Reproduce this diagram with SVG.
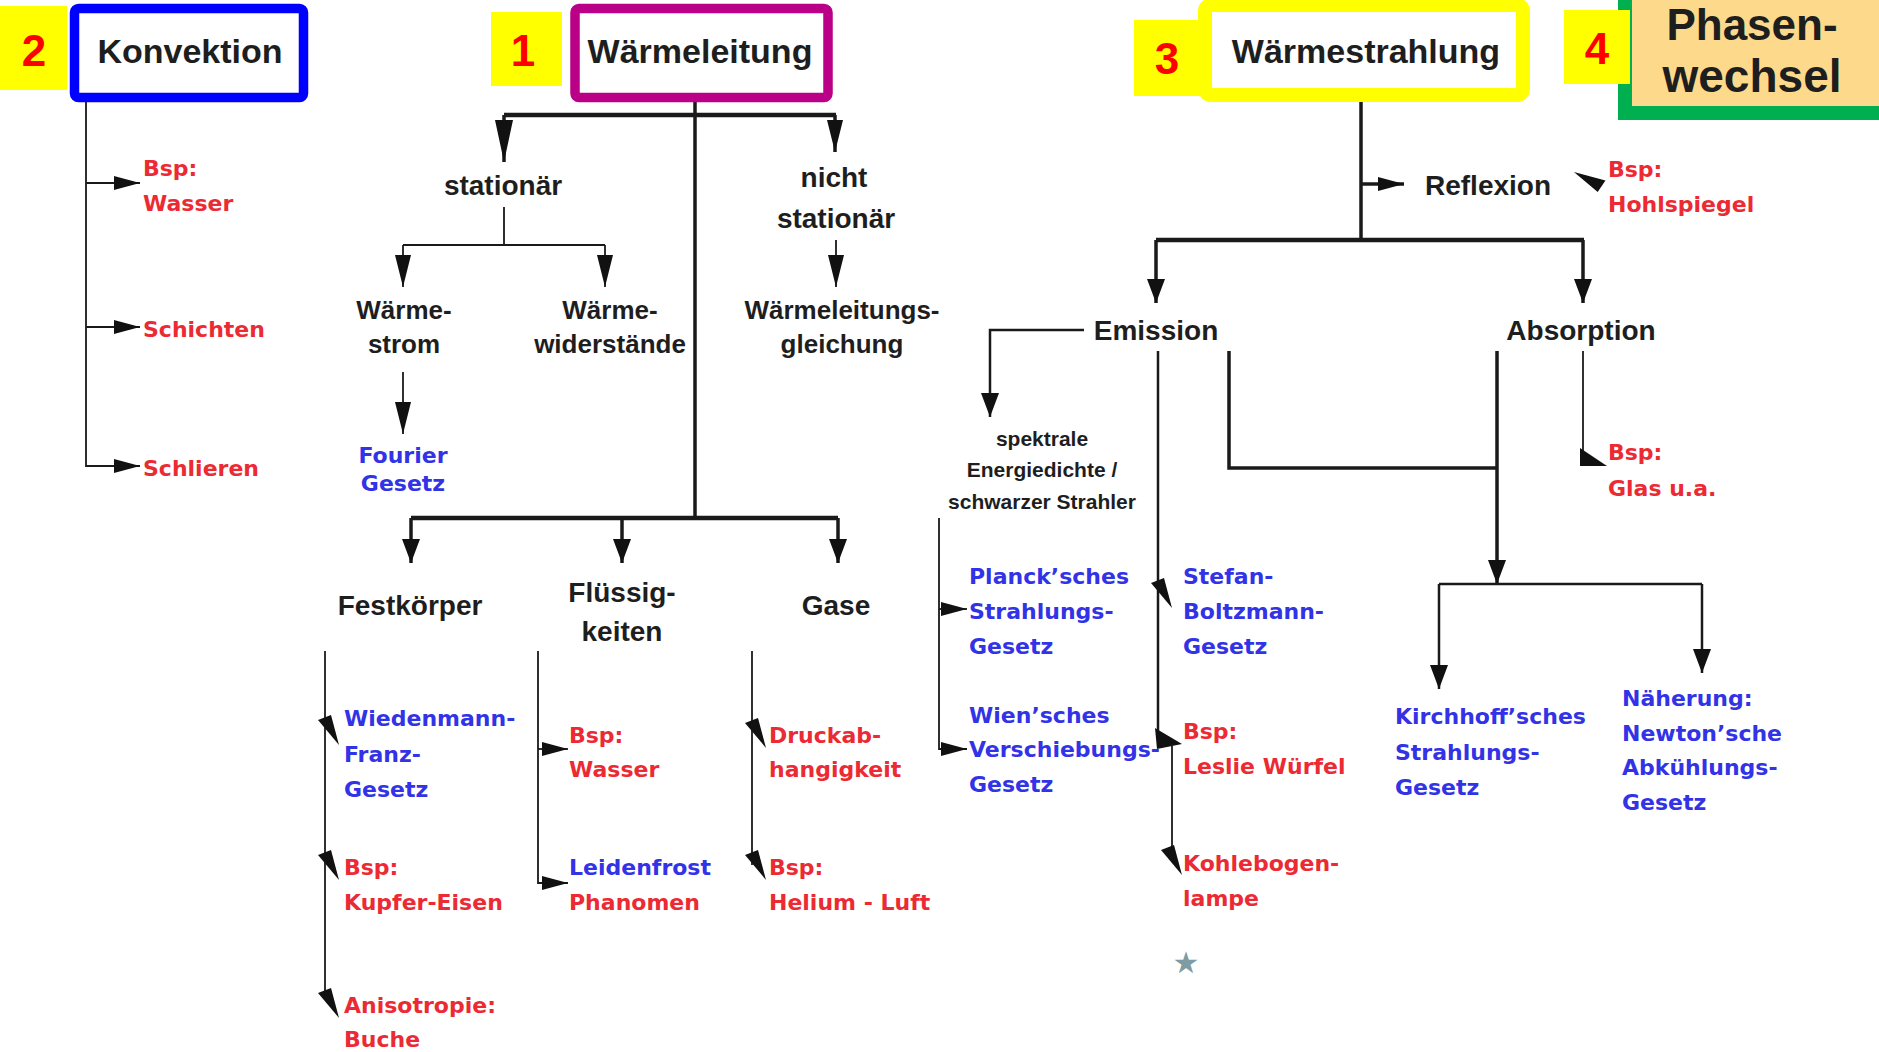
<svg xmlns="http://www.w3.org/2000/svg" width="1879" height="1052" viewBox="0 0 1879 1052">
<defs>
<style>
.lbl{font-family:"Liberation Sans",Arial,sans-serif;font-weight:bold;fill:#1e1e1e}
.ttl{font-size:34px;text-anchor:middle}
.mid{font-size:28px;text-anchor:middle}
.sm{font-size:26px;text-anchor:middle}
.tiny{font-size:21px;text-anchor:middle}
.col{font-family:"DejaVu Sans",Verdana,sans-serif;font-weight:bold;font-size:22px}
.r{fill:#ec2a33}
.b{fill:#3232e6}
.num{font-family:"Liberation Sans",Arial,sans-serif;font-weight:bold;font-size:44px;fill:#ff0000;text-anchor:middle}
.ln{fill:none;stroke:#1a1a1a;stroke-linejoin:miter}
.t1{stroke-width:1.8}
.t2{stroke-width:2.5}
.t3{stroke-width:3.5}
.t4{stroke-width:4.5}
.dart{fill:#111}
</style>
<marker id="ah" markerUnits="userSpaceOnUse" markerWidth="24" markerHeight="18" refX="24" refY="9" orient="auto"><path d="M0,0 L24,9 L0,18 Z" fill="#111"/></marker>
<marker id="ahl" markerUnits="userSpaceOnUse" markerWidth="42" markerHeight="18" refX="42" refY="9" orient="auto"><path d="M0,0 L42,9 L0,18 Z" fill="#111"/></marker>
<marker id="ahm" markerUnits="userSpaceOnUse" markerWidth="32" markerHeight="16" refX="32" refY="8" orient="auto"><path d="M0,0 L32,8 L0,16 Z" fill="#111"/></marker>
<marker id="ahs" markerUnits="userSpaceOnUse" markerWidth="26" markerHeight="14" refX="26" refY="7" orient="auto"><path d="M0,0 L26,7 L0,14 Z" fill="#111"/></marker>
<path id="dart" d="M-7,-3 L6,-8 L14,22 Z"/>
</defs>
<rect x="0" y="0" width="1879" height="1052" fill="#ffffff"/>

<g id="connectors">
  <!-- Konvektion -->
  <path class="ln t1" d="M86,84 V466 H140" marker-end="url(#ahs)"/>
  <path class="ln t1" d="M86,183 H140" marker-end="url(#ahs)"/>
  <path class="ln t1" d="M86,327 H140" marker-end="url(#ahs)"/>
  <!-- Waermeleitung -->
  <path class="ln t3" d="M695,84 V518"/>
  <path class="ln t4" d="M504,115 H836"/>
  <path class="ln t3" d="M504,115 V162" marker-end="url(#ahl)"/>
  <path class="ln t3" d="M835,115 V152" marker-end="url(#ahm)"/>
  <path class="ln t1" d="M504,207 V245 M403,245 H605"/>
  <path class="ln t1" d="M403,245 V287" marker-end="url(#ahm)"/>
  <path class="ln t1" d="M605,245 V287" marker-end="url(#ahm)"/>
  <path class="ln t1" d="M836,240 V287" marker-end="url(#ahm)"/>
  <path class="ln t1" d="M403,372 V434" marker-end="url(#ahm)"/>
  <path class="ln t4" d="M411,518 H838"/>
  <path class="ln t3" d="M411,518 V563" marker-end="url(#ah)"/>
  <path class="ln t3" d="M622,518 V563" marker-end="url(#ah)"/>
  <path class="ln t3" d="M838,518 V563" marker-end="url(#ah)"/>
  <!-- Festkoerper -->
  <path class="ln t1" d="M325,651 V1000"/>
  <use href="#dart" class="dart" transform="translate(325,723)"/>
  <use href="#dart" class="dart" transform="translate(325,858)"/>
  <use href="#dart" class="dart" transform="translate(325,996)"/>
  <!-- Fluessigkeiten -->
  <path class="ln t1" d="M538,651 V883 H568" marker-end="url(#ahs)"/>
  <path class="ln t1" d="M538,749 H568" marker-end="url(#ahs)"/>
  <!-- Gase -->
  <path class="ln t1" d="M752,651 V865"/>
  <use href="#dart" class="dart" transform="translate(752,726)"/>
  <use href="#dart" class="dart" transform="translate(752,858)"/>
  <!-- Waermestrahlung -->
  <path class="ln t3" d="M1361,84 V240"/>
  <path class="ln t3" d="M1361,184 H1404" marker-end="url(#ahs)"/>
  <use href="#dart" class="dart" transform="translate(1598,182) rotate(145)"/>
  <path class="ln t4" d="M1156,240 H1584"/>
  <path class="ln t3" d="M1156,240 V303" marker-end="url(#ah)"/>
  <path class="ln t3" d="M1583,240 V303" marker-end="url(#ah)"/>
  <!-- Emission -->
  <path class="ln t2" d="M1084,330 H990 V417" marker-end="url(#ah)"/>
  <path class="ln t1" d="M939,518 V749 H967" marker-end="url(#ahs)"/>
  <path class="ln t1" d="M939,609 H967" marker-end="url(#ahs)"/>
  <path class="ln t2" d="M1158,351 V737"/>
  <use href="#dart" class="dart" transform="translate(1158,586)"/>
  <polygon class="dart" points="1155,728 1182,744 1157,749"/>
  <path class="ln t1" d="M1172,744 V860"/>
  <use href="#dart" class="dart" transform="translate(1168,853)"/>
  <path class="ln t3" d="M1229,351 V468 H1497"/>
  <!-- Absorption -->
  <path class="ln t3" d="M1497,351 V584" marker-end="url(#ah)"/>
  <path class="ln t2" d="M1439,584 H1702"/>
  <path class="ln t2" d="M1439,584 V689" marker-end="url(#ah)"/>
  <path class="ln t2" d="M1702,584 V673" marker-end="url(#ah)"/>
  <path class="ln t1" d="M1583,351 V462"/>
  <polygon class="dart" points="1580,448 1580,466 1607,466"/>
</g>

<g id="n-konvektion">
  <rect x="0" y="6" width="67" height="84" fill="#ffff00"/>
  <text class="num" x="34" y="66">2</text>
  <rect x="74.5" y="8.5" width="229" height="89" rx="4" fill="#ffffff" stroke="#0000ff" stroke-width="9.5"/>
  <text class="lbl ttl" x="190" y="63">Konvektion</text>
</g>
<g id="n-waermeleitung">
  <rect x="491" y="12" width="71" height="74" fill="#ffff00"/>
  <text class="num" x="523" y="66">1</text>
  <rect x="575" y="8.5" width="253" height="89" rx="4" fill="#ffffff" stroke="#bb0088" stroke-width="9.5"/>
  <text class="lbl ttl" x="700" y="63">Wärmeleitung</text>
</g>
<g id="n-waermestrahlung">
  <rect x="1205" y="5" width="318" height="90" rx="6" fill="#ffffff" stroke="#ffff00" stroke-width="14"/>
  <rect x="1134" y="20" width="70" height="76" fill="#ffff00"/>
  <text class="num" x="1167" y="74">3</text>
  <text class="lbl ttl" x="1366" y="63">Wärmestrahlung</text>
</g>
<g id="n-phasenwechsel">
  <rect x="1625" y="-10" width="270" height="123" fill="#fdd98b" stroke="#00b050" stroke-width="14"/>
  <rect x="1564" y="10" width="66" height="74" fill="#ffff00"/>
  <text class="num" x="1597" y="64">4</text>
  <text class="lbl" x="1752" y="40" font-size="44" text-anchor="middle" fill="#000">Phasen-</text>
  <text class="lbl" x="1752" y="92" font-size="46" text-anchor="middle" fill="#000">wechsel</text>
</g>

<g id="n-konv-wasser"><text class="col r" x="143" y="176">Bsp:</text><text class="col r" x="143" y="211">Wasser</text></g>
<g id="n-schichten"><text class="col r" x="143" y="337">Schichten</text></g>
<g id="n-schlieren"><text class="col r" x="143" y="476">Schlieren</text></g>

<g id="n-stationaer"><text class="lbl mid" x="503" y="195">stationär</text></g>
<g id="n-nichtstationaer"><text class="lbl mid" x="834" y="187">nicht</text><text class="lbl mid" x="836" y="228">stationär</text></g>
<g id="n-waermestrom"><text class="lbl sm" x="404" y="319">Wärme-</text><text class="lbl sm" x="404" y="353">strom</text></g>
<g id="n-waermewiderstaende"><text class="lbl sm" x="610" y="319">Wärme-</text><text class="lbl sm" x="610" y="353">widerstände</text></g>
<g id="n-wlg"><text class="lbl sm" x="842" y="319">Wärmeleitungs-</text><text class="lbl sm" x="842" y="353">gleichung</text></g>
<g id="n-fourier"><text class="col b" x="403" y="463" font-size="18" text-anchor="middle">Fourier</text><text class="col b" x="403" y="491" font-size="18" text-anchor="middle">Gesetz</text></g>

<g id="n-festkoerper"><text class="lbl mid" x="410" y="615">Festkörper</text></g>
<g id="n-fluessigkeiten"><text class="lbl mid" x="622" y="602">Flüssig-</text><text class="lbl mid" x="622" y="641">keiten</text></g>
<g id="n-gase"><text class="lbl mid" x="836" y="615">Gase</text></g>

<g id="n-wiedemann"><text class="col b" x="344" y="726">Wiedenmann-</text><text class="col b" x="344" y="762">Franz-</text><text class="col b" x="344" y="797">Gesetz</text></g>
<g id="n-kupfer"><text class="col r" x="344" y="875">Bsp:</text><text class="col r" x="344" y="910">Kupfer-Eisen</text></g>
<g id="n-buche"><text class="col r" x="344" y="1013">Anisotropie:</text><text class="col r" x="344" y="1047">Buche</text></g>
<g id="n-fl-wasser"><text class="col r" x="569" y="743">Bsp:</text><text class="col r" x="569" y="777">Wasser</text></g>
<g id="n-leidenfrost"><text class="col b" x="569" y="875">Leidenfrost</text><text class="col r" x="569" y="910">Phanomen</text></g>
<g id="n-druck"><text class="col r" x="769" y="743">Druckab-</text><text class="col r" x="769" y="777">hangigkeit</text></g>
<g id="n-helium"><text class="col r" x="769" y="875">Bsp:</text><text class="col r" x="769" y="910">Helium - Luft</text></g>

<g id="n-reflexion"><text class="lbl" x="1425" y="195" font-size="28">Reflexion</text></g>
<g id="n-hohlspiegel"><text class="col r" x="1608" y="177">Bsp:</text><text class="col r" x="1608" y="212">Hohlspiegel</text></g>
<g id="n-emission"><text class="lbl mid" x="1156" y="340">Emission</text></g>
<g id="n-absorption"><text class="lbl mid" x="1581" y="340">Absorption</text></g>
<g id="n-spektral"><text class="lbl tiny" x="1042" y="446">spektrale</text><text class="lbl tiny" x="1042" y="477">Energiedichte /</text><text class="lbl tiny" x="1042" y="509">schwarzer Strahler</text></g>
<g id="n-planck"><text class="col b" x="969" y="584">Planck’sches</text><text class="col b" x="969" y="619">Strahlungs-</text><text class="col b" x="969" y="654">Gesetz</text></g>
<g id="n-wien"><text class="col b" x="969" y="723">Wien’sches</text><text class="col b" x="969" y="757">Verschiebungs-</text><text class="col b" x="969" y="792">Gesetz</text></g>
<g id="n-stefan"><text class="col b" x="1183" y="584">Stefan-</text><text class="col b" x="1183" y="619">Boltzmann-</text><text class="col b" x="1183" y="654">Gesetz</text></g>
<g id="n-leslie"><text class="col r" x="1183" y="739">Bsp:</text><text class="col r" x="1183" y="774">Leslie Würfel</text></g>
<g id="n-kohle"><text class="col r" x="1183" y="871">Kohlebogen-</text><text class="col r" x="1183" y="906">lampe</text></g>
<g id="n-glas"><text class="col r" x="1608" y="460">Bsp:</text><text class="col r" x="1608" y="496">Glas u.a.</text></g>
<g id="n-kirchhoff"><text class="col b" x="1395" y="724">Kirchhoff’sches</text><text class="col b" x="1395" y="760">Strahlungs-</text><text class="col b" x="1395" y="795">Gesetz</text></g>
<g id="n-newton"><text class="col b" x="1622" y="706">Näherung:</text><text class="col b" x="1622" y="741">Newton’sche</text><text class="col b" x="1622" y="775">Abkühlungs-</text><text class="col b" x="1622" y="810">Gesetz</text></g>

<text x="1186" y="973" font-family="DejaVu Sans,sans-serif" font-size="30" fill="#7d9ca3" text-anchor="middle">★</text>
</svg>
